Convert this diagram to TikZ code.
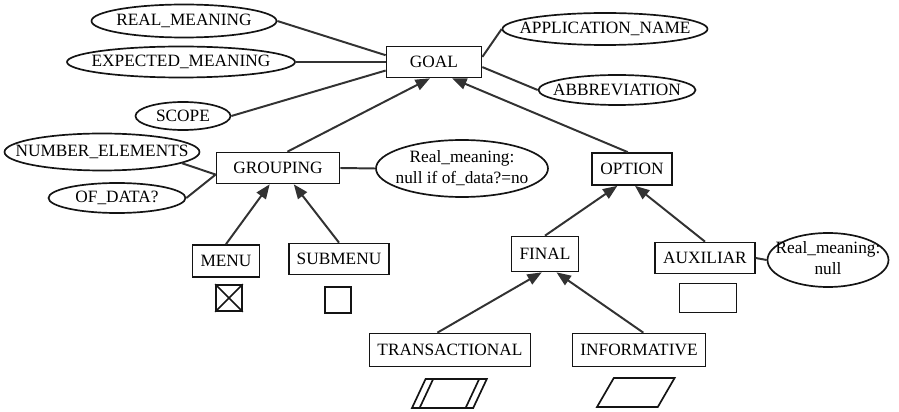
\documentclass[tikz,border=0pt]{standalone}
\usepackage{fontspec}
\setmainfont{Liberation Serif}
\usepackage{xcolor}
\usepackage{tikz}
\usetikzlibrary{positioning,arrows.meta,shapes.geometric,calc}
\definecolor{lineclr}{RGB}{50,50,50}
\definecolor{boxclr}{RGB}{20,20,20}
\newcommand{\zw}[1]{\makebox[0pt]{#1}}
\tikzset{
    ent/.style={rectangle,draw=boxclr,line width=1.2pt,fill=white,
                minimum height=8mm,inner xsep=2mm,inner ysep=1pt},
    attr/.style={ellipse,draw=boxclr,line width=1.2pt,fill=white,
                 inner sep=0pt},
    icon/.style={rectangle,draw=boxclr,line width=1.2pt,inner sep=0pt},
    link/.style={draw=lineclr,line width=1.4pt},
    edge/.style={link,-{Triangle[length=3.6mm,width=2.8mm]}},
}
\begin{document}
\begin{tikzpicture}[font=\fontsize{12.3}{15}\selectfont]
\useasboundingbox (0,0) rectangle (22.475,10.3);

\node[ent,minimum width=2.375cm,minimum height=7.75mm] (GOAL) at (10.85,8.75) {GOAL};
\node[ent,minimum width=3.075cm,minimum height=7.75mm] (GRP)  at (6.95,6.1)   {GROUPING};
\node[ent,minimum width=1.9cm]   (OPT)  at (15.8,6.075)  {OPTION};
\node[ent,minimum width=1.625cm] (MENU) at (5.65,3.775)  {MENU};
\node[ent,minimum width=2.425cm,minimum height=7.75mm] (SUB)  at (8.475,3.825) {SUBMENU};
\node[ent,minimum width=1.5cm,minimum height=8.75mm]   (FIN)  at (13.625,3.95) {FINAL};
\node[ent,minimum width=2.425cm,minimum height=7.75mm] (AUX)  at (17.625,3.85) {AUXILIAR};
\node[ent,minimum width=3.85cm,minimum height=8.25mm]  (TRA)  at (11.25,1.55)  {TRANSACTIONAL};
\node[ent,minimum width=3.3cm,minimum height=8.25mm]   (INF)  at (15.975,1.55) {INFORMATIVE};

\node[attr,minimum width=4.625cm,minimum height=8.25mm] (RM)  at (4.6,9.775)   {\zw{REAL\_MEANING}};
\node[attr,minimum width=5.7cm,minimum height=7.75mm]   (EM)  at (4.525,8.75)  {\zw{EXPECTED\_MEANING}};
\node[attr,minimum width=2.375cm,minimum height=7mm]    (SCO) at (4.575,7.4)   {\zw{SCOPE}};
\node[attr,minimum width=5.125cm,minimum height=8mm]    (APN) at (15.125,9.575){\zw{APPLICATION\_NAME}};
\node[attr,minimum width=3.925cm,minimum height=7.5mm]  (ABB) at (15.425,8.05) {\zw{ABBREVIATION}};
\node[attr,minimum width=4.875cm,minimum height=9.25mm] (NUM) at (2.55,6.5)    {\zw{NUMBER\_ELEMENTS}};
\node[attr,minimum width=3.425cm,minimum height=7.5mm]  (OFD) at (2.925,5.35)  {\zw{OF\_DATA?}};
\node[attr,minimum width=4.3cm,minimum height=14.25mm,inner ysep=-0.5mm] (RMG) at (11.55,6.0875)
    {\zw{\begin{tabular}{@{}c@{}}Real\_meaning:\\null if of\_data?=no\end{tabular}}};
\node[attr,minimum width=3.025cm,minimum height=13.5mm,inner ysep=-1mm] (RMA) at (20.7,3.8)
    {\zw{\begin{tabular}{@{}c@{}}Real\_meaning:\\null\end{tabular}}};

\node[icon,minimum size=6.5mm] (MENUi) at (5.725,2.85) {};
\draw[line width=1.2pt,draw=boxclr] (MENUi.north west) -- (MENUi.south east)
      (MENUi.south west) -- (MENUi.north east);
\node[icon,minimum size=6.5mm] (SUBi) at (8.45,2.8) {};
\node[icon,minimum width=14.25mm,minimum height=7.25mm] (AUXi) at (17.7,2.85) {};

\coordinate (TRAi) at (10.3,0.1);
\draw[line width=1.2pt,draw=boxclr] (TRAi) -- ++(1.53,0) -- ++(0.34,0.725) -- ++(-1.53,0) -- cycle;
\draw[line width=1.2pt,draw=boxclr] ($(TRAi)+(0.19,0)$) -- ++(0.34,0.725)
      ($(TRAi)+(1.34,0)$) -- ++(0.34,0.725);
\coordinate (INFi) at (14.925,0.125);
\draw[line width=1.2pt,draw=boxclr] (INFi) -- ++(1.52,0) -- ++(0.42,0.725) -- ++(-1.52,0) -- cycle;

\draw[link] (RM.east) -- (GOAL.172);
\draw[link] (EM.east) -- (GOAL.west);
\draw[link] (SCO.east) -- (GOAL.190);
\draw[link] (APN.west) -- (GOAL.6);
\draw[link] (ABB.west) -- (GOAL.-6);
\draw[link] (NUM.-8) -- (GRP.186);
\draw[link] (OFD.east) -- (GRP.186);
\draw[link] (GRP.east) -- (RMG.west);
\draw[link] (AUX.east) -- (RMA.west);

\draw[edge] (GRP.60) -- (GOAL.256);
\draw[edge] (OPT.104) -- (GOAL.318);
\draw[edge] (MENU.north) -- (GRP.243);
\draw[edge] (SUB.north) -- (GRP.314);
\draw[edge] (FIN.north) -- (OPT.229);
\draw[edge] (AUX.north) -- (OPT.280);
\draw[edge] (TRA.126) -- (FIN.260);
\draw[edge] (INF.76) -- (FIN.302);
\end{tikzpicture}
\end{document}
